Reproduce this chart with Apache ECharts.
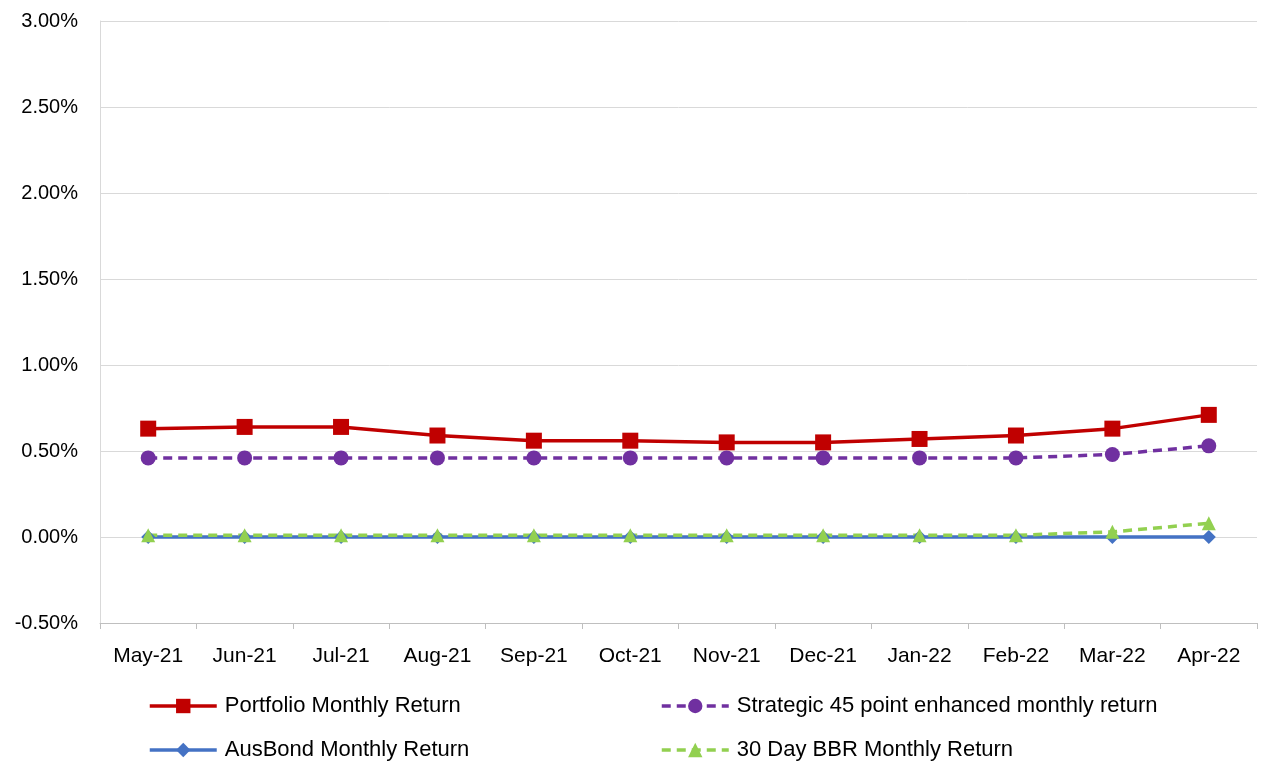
<!DOCTYPE html>
<html><head><meta charset="utf-8">
<script src="https://cdn.jsdelivr.net/npm/echarts@6/dist/echarts.min.js"></script>
<style>html,body{margin:0;padding:0;background:#fff}#c{width:1263px;height:765px}</style>
</head><body><div id="c"></div>
<script>
const categories = ['May-21','Jun-21','Jul-21','Aug-21','Sep-21','Oct-21','Nov-21','Dec-21','Jan-22','Feb-22','Mar-22','Apr-22'];
const portfolio = [0.63,0.64,0.64,0.59,0.56,0.56,0.55,0.55,0.57,0.59,0.63,0.71];
const strategic = [0.46,0.46,0.46,0.46,0.46,0.46,0.46,0.46,0.46,0.46,0.48,0.53];
const ausbond = [0,0,0,0,0,0,0,0,0,0,0,0];
const bbr = [0.01,0.01,0.01,0.01,0.01,0.01,0.01,0.01,0.01,0.01,0.03,0.08];
const names = ['Portfolio Monthly Return','Strategic 45 point enhanced monthly return','AusBond Monthly Return','30 Day BBR Monthly Return'];
const font = 'Liberation Sans';
const chart = echarts.init(document.getElementById('c'));
const legendText = {fontFamily: font, fontSize: 22, color: '#000', padding: [0, 0, 0, 3]};
const legendBase = {orient: 'vertical', top: 695, padding: 0, itemWidth: 67, itemHeight: 18, itemGap: 22, textStyle: legendText, lineStyle: {width: 3.5}};
chart.setOption({
  animation: false,
  grid: {left: 100, right: 6, top: 21, bottom: 142},
  legend: [
    Object.assign({}, legendBase, {data: [names[0], names[2]], left: 148}),
    Object.assign({}, legendBase, {data: [names[1], names[3]], left: 660})
  ],
  xAxis: {
    type: 'category', data: categories, boundaryGap: true,
    axisLine: {onZero: false, lineStyle: {color: '#bfbfbf'}},
    axisTick: {show: true, length: 6, lineStyle: {color: '#bfbfbf'}},
    axisLabel: {fontFamily: font, fontSize: 21, color: '#000', margin: 23, interval: 0}
  },
  yAxis: {
    type: 'value', min: -0.5, max: 3, interval: 0.5,
    axisLine: {show: true, lineStyle: {color: '#d9d9d9'}},
    axisTick: {show: false},
    splitLine: {lineStyle: {color: '#d9d9d9'}},
    axisLabel: {fontFamily: font, fontSize: 20, color: '#000', margin: 22, formatter: v => v.toFixed(2) + '%'}
  },
  series: [
    {name: names[0], type: 'line', data: portfolio, symbol: 'rect', symbolSize: 16, color: '#C00000', lineStyle: {width: 3.5, color: '#C00000'}, itemStyle: {color: '#C00000'}},
    {name: names[1], type: 'line', data: strategic, symbol: 'circle', symbolSize: 15, color: '#7030A0', lineStyle: {width: 3.5, type: [9, 6], color: '#7030A0'}, itemStyle: {color: '#7030A0'}},
    {name: names[2], type: 'line', data: ausbond, symbol: 'diamond', symbolSize: 14, color: '#4472C4', lineStyle: {width: 3.5, color: '#4472C4'}, itemStyle: {color: '#4472C4'}},
    {name: names[3], type: 'line', data: bbr, symbol: 'triangle', symbolSize: 14, color: '#92D050', lineStyle: {width: 3.5, type: [9, 6], color: '#92D050'}, itemStyle: {color: '#92D050'}}
  ]
});
</script></body></html>
